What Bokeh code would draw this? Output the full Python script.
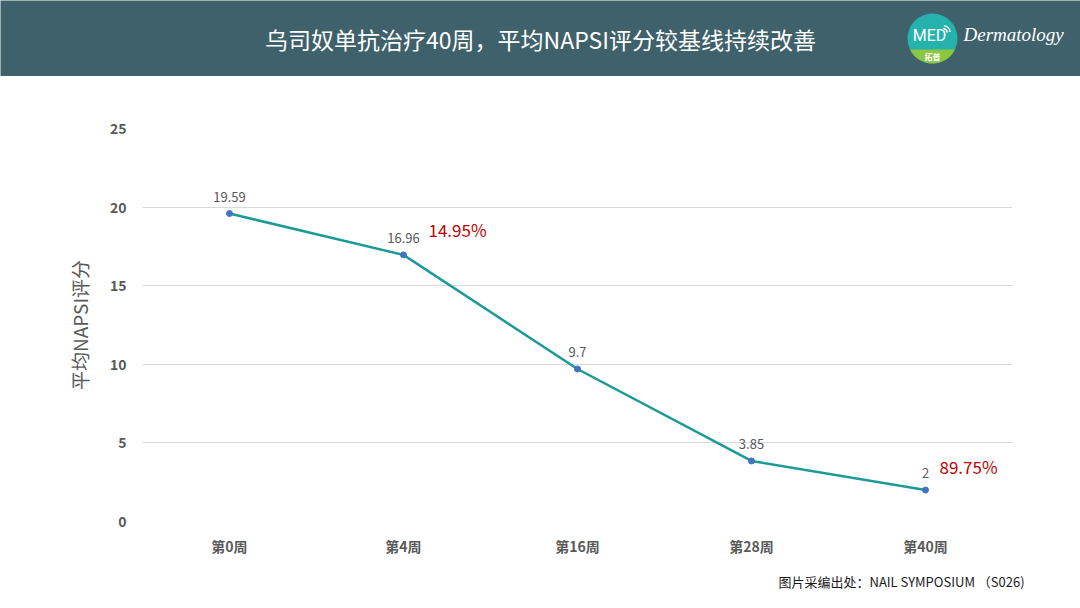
import numpy as np
from bokeh.plotting import figure
from bokeh.layouts import column
from bokeh.models import ColumnDataSource, FixedTicker
from bokeh.core.properties import value
from bokeh.embed import file_html
from bokeh.resources import INLINE

# ---- data ----
weeks = ["第0周", "第4周", "第16周", "第28周", "第40周"]
napsi = [19.59, 16.96, 9.7, 3.85, 2]
napsi_labels = ["19.59", "16.96", "9.7", "3.85", "2"]
pct_weeks = ["第4周", "第40周"]
pct_values = [16.96, 2]
pct_labels = ["14.95%", "89.75%"]
y_ticks = [0, 5, 10, 15, 20, 25]

title_text = "乌司奴单抗治疗40周，平均NAPSI评分较基线持续改善"
y_title = "平均NAPSI评分"
source_text = "图片采编出处：NAIL SYMPOSIUM （S026)"

CJK = "Noto Sans CJK SC"
W = 1080
HEAD_H = 76
FOOT_H = 40
MAIN_H = 608 - HEAD_H - FOOT_H

# ---- header ----
h = figure(width=W, height=HEAD_H, x_range=(0, W), y_range=(0, HEAD_H),
           output_backend="svg", toolbar_location=None,
           min_border=0, background_fill_color="#3f616b",
           border_fill_color="#3f616b", outline_line_color=None)
h.frame_align = False
h.axis.visible = False
h.grid.visible = False
h.text(x=[540], y=[38], text=[title_text], text_font=value(CJK),
       text_font_size="23px", text_color="white",
       text_align="center", text_baseline="middle")

# logo
cx, cy, r = 932, 38, 25
h.circle(x=[cx], y=[cy], radius=r, fill_color="#25b2ad", line_color=None)
chord = cy - 11
ang0 = np.arcsin((chord - cy) / r)
th = np.linspace(np.pi - ang0, 2 * np.pi + ang0, 40)
h.patch(x=list(cx + r * np.cos(th)), y=list(cy + r * np.sin(th)),
        fill_color="#8cc63f", line_color=None)
h.text(x=[cx - 3], y=[cy + 3], text=["MED"], text_font=value("Roboto"),
       text_font_size="16px", text_color="white", text_align="center",
       text_baseline="middle")
h.text(x=[cx], y=[cy - 18], text=["拓普"], text_font=value(CJK),
       text_font_size="8px", text_color="white", text_font_style="bold",
       text_align="center", text_baseline="middle")
for rr in [5, 8]:
    h.arc(x=[cx + 10], y=[cy + 5], radius=rr, start_angle=0.2, end_angle=1.4,
          line_color="white", line_width=1.5)
h.text(x=[963], y=[42], text=["Dermatology"], text_font=value("Liberation Serif"),
       text_font_style="italic", text_font_size="19px", text_color="white",
       text_align="left", text_baseline="middle")

# ---- main chart ----
p = figure(width=W, height=MAIN_H, x_range=weeks, y_range=(0, 25),
           output_backend="svg", toolbar_location=None,
           min_border_left=142, min_border_right=68,
           min_border_top=52, min_border_bottom=MAIN_H - 52 - 393,
           outline_line_color=None, background_fill_color="white")
p.frame_align = False

src = ColumnDataSource(dict(x=weeks, y=napsi, lab=napsi_labels))
p.line("x", "y", source=src, line_color="#1b9b98", line_width=2.5)
p.scatter("x", "y", source=src, size=6, fill_color="#4472c4",
          line_color="#4472c4")
p.text("x", "y", text="lab", source=src, text_font=value(CJK),
       text_font_size="13px", text_color="#595959", text_align="center",
       text_baseline="bottom", y_offset=-12)

pct_src1 = ColumnDataSource(dict(x=pct_weeks[:1], y=pct_values[:1], t=pct_labels[:1]))
pct_src2 = ColumnDataSource(dict(x=pct_weeks[1:], y=pct_values[1:], t=pct_labels[1:]))
p.text("x", "y", text="t", source=pct_src1, text_font=value(CJK),
       text_font_size="17px", text_color="#c00000", text_align="left",
       text_baseline="middle", x_offset=25, y_offset=-25)
p.text("x", "y", text="t", source=pct_src2, text_font=value(CJK),
       text_font_size="17px", text_color="#c00000", text_align="left",
       text_baseline="middle", x_offset=14, y_offset=-24)

p.yaxis.ticker = FixedTicker(ticks=y_ticks)
p.axis.axis_line_color = None
p.axis.major_tick_line_color = None
p.axis.minor_tick_line_color = None
p.axis.major_label_text_font = CJK
p.axis.major_label_text_font_style = "bold"
p.axis.major_label_text_font_size = "14px"
p.axis.major_label_text_color = "#595959"
p.yaxis.major_label_standoff = 10
p.xaxis.major_label_standoff = 8
p.yaxis.axis_label = y_title
p.yaxis.axis_label_text_font = CJK
p.yaxis.axis_label_text_font_style = "normal"
p.yaxis.axis_label_text_font_size = "19px"
p.yaxis.axis_label_text_color = "#595959"
p.yaxis.axis_label_standoff = 14
p.xgrid.visible = False
p.ygrid.grid_line_color = "#d9d9d9"
p.ygrid.grid_line_width = 1

# ---- footer ----
f = figure(width=W, height=FOOT_H, x_range=(0, W), y_range=(0, FOOT_H),
           output_backend="svg", toolbar_location=None, min_border=0,
           outline_line_color=None, background_fill_color="white")
f.frame_align = False
f.axis.visible = False
f.grid.visible = False
f.text(x=[778], y=[FOOT_H - 13], text=[source_text], text_font=value(CJK),
       text_font_size="13px", text_color="#1a1a1a", text_align="left",
       text_baseline="middle")

layout = column(h, p, f, spacing=0)
open("out.html", "w").write(file_html(layout, INLINE))
